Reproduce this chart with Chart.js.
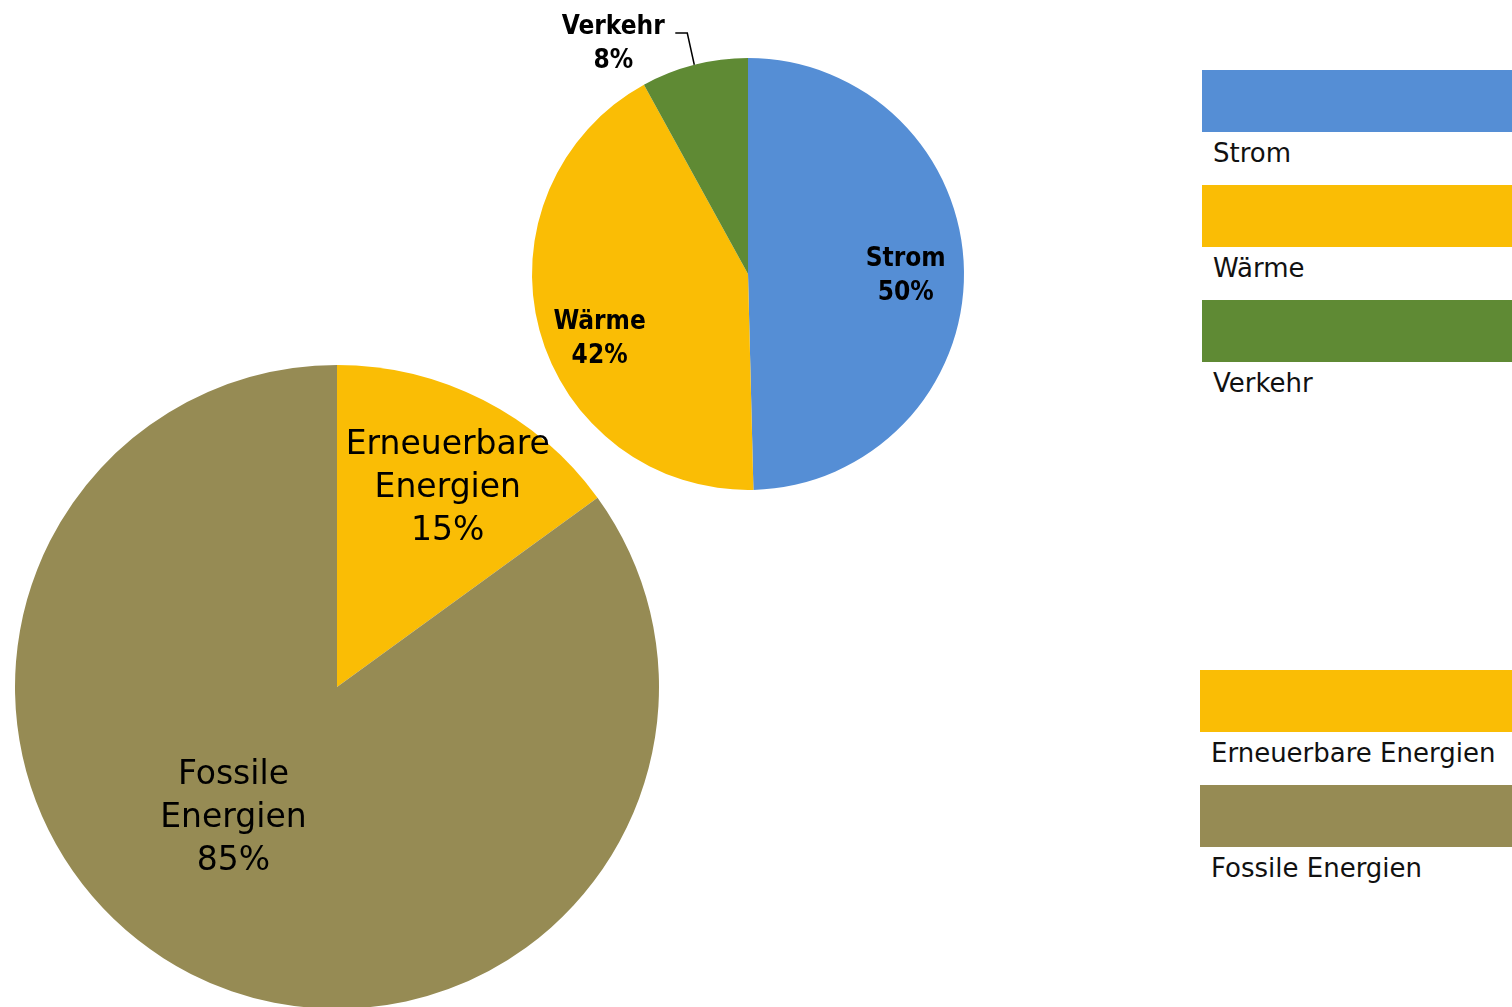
<!DOCTYPE html>
<html>
<head>
<meta charset="utf-8">
<script src="https://cdn.jsdelivr.net/npm/chart.js@4/dist/chart.umd.min.js"></script>
<style>
  html, body { margin: 0; padding: 0; background: #fff; overflow: hidden; width: 1512px; height: 1007px; }
  canvas { position: absolute; }
  #sectorChart { left: 430px; top: 0px; }
  #sourceChart { left: 0px; top: 0px; }
  .legend { position: absolute; left: 0; top: 0; font-family: "DejaVu Sans", sans-serif; color: #111; }
  .legend .swatch { position: absolute; height: 62px; width: 320px; }
  .legend .label { position: absolute; font-size: 26px; white-space: nowrap; }
</style>
</head>
<body>
<canvas id="sourceChart" width="700" height="1020"></canvas>
<canvas id="sectorChart" width="640" height="560"></canvas>
<div class="legend" id="legendTop"></div>
<div class="legend" id="legendBottom"></div>
<script>
const sectorLabels = ['Strom', 'Wärme', 'Verkehr'];
const sectorValues = [49.6, 42.4, 8.0];
const sectorPctText = ['50%', '42%', '8%'];
const sectorColors = ['#558ed5', '#fabd05', '#5f8a34'];

const sourceLabels = ['Erneuerbare Energien', 'Fossile Energien'];
const sourceValues = [15, 85];
const sourcePctText = ['15%', '85%'];
const sourceColors = ['#fabd05', '#968b54'];

const FONT = '"DejaVu Sans", sans-serif';
const FONT_COND = '"DejaVu Sans Condensed", "DejaVu Sans", sans-serif';

// draws text labels inside (or outside) slices
const sliceLabels = {
  id: 'sliceLabels',
  afterDatasetsDraw(chart, args, opts) {
    const ctx = chart.ctx;
    const arcs = chart.getDatasetMeta(0).data;
    ctx.save();
    ctx.fillStyle = '#000';
    ctx.textAlign = 'center';
    ctx.textBaseline = 'middle';
    ctx.font = opts.font;
    arcs.forEach((arc, i) => {
      const p = arc.getProps(['x', 'y', 'startAngle', 'endAngle', 'outerRadius'], true);
      const mid = (p.startAngle + p.endAngle) / 2;
      const lines = opts.lines[i];
      const tw = opts.tweaks[i] || {};
      if (tw.outside) {
        const ex = p.x + Math.cos(mid) * p.outerRadius;
        const ey = p.y + Math.sin(mid) * p.outerRadius;
        const kx = ex - 7, ky = p.y - p.outerRadius - 25;
        ctx.strokeStyle = '#000';
        ctx.lineWidth = 1.5;
        ctx.beginPath();
        ctx.moveTo(ex, ey);
        ctx.lineTo(kx, ky);
        ctx.lineTo(kx - 12, ky);
        ctx.stroke();
        const tx = kx - 12 - 62;
        lines.forEach((t, j) => ctx.fillText(t, tx, ky - 6 + j * opts.lineHeight));
        return;
      }
      const r = p.outerRadius * (tw.r || opts.radius);
      const cx = p.x + Math.cos(mid) * r + (tw.dx || 0);
      const cy = p.y + Math.sin(mid) * r + (tw.dy || 0);
      const y0 = cy - (lines.length - 1) * opts.lineHeight / 2;
      lines.forEach((t, j) => ctx.fillText(t, cx, y0 + j * opts.lineHeight));
    });
    ctx.restore();
  }
};

function pieConfig(labels, values, colors, padding, labelOpts) {
  return {
    type: 'pie',
    data: {
      labels,
      datasets: [{ data: values, backgroundColor: colors, borderWidth: 0 }]
    },
    options: {
      responsive: false,
      animation: false,
      events: [],
      layout: { padding },
      plugins: {
        legend: { display: false },
        tooltip: { enabled: false },
        sliceLabels: labelOpts
      }
    },
    plugins: [sliceLabels]
  };
}

new Chart(document.getElementById('sourceChart'), pieConfig(
  sourceLabels, sourceValues, sourceColors,
  { left: 15, right: 41, top: 365, bottom: 11 },
  {
    font: '33px ' + FONT,
    lineHeight: 43,
    radius: 0.71,
    lines: [['Erneuerbare', 'Energien', sourcePctText[0]], ['Fossile', 'Energien', sourcePctText[1]]],
    tweaks: [{ dx: 7, dy: 5 }, { r: 0.51, dx: -29, dy: -15 }]
  }
));

new Chart(document.getElementById('sectorChart'), pieConfig(
  sectorLabels, sectorValues, sectorColors,
  { left: 102, right: 106, top: 58, bottom: 70 },
  {
    font: 'bold 26px ' + FONT_COND,
    lineHeight: 34,
    radius: 0.73,
    lines: sectorLabels.map((l, i) => [l, sectorPctText[i]]),
    tweaks: [{ dy: 4 }, { r: 0.75, dx: 8, dy: 23 }, { outside: true }]
  }
));

function buildLegend(el, labels, colors, left, top, step) {
  labels.forEach((label, i) => {
    const sw = document.createElement('div');
    sw.className = 'swatch';
    sw.style.background = colors[i];
    sw.style.left = left + 'px';
    sw.style.top = (top + i * step) + 'px';
    el.appendChild(sw);
    const tx = document.createElement('div');
    tx.className = 'label';
    tx.textContent = label;
    tx.style.left = (left + 11) + 'px';
    tx.style.top = (top + i * step + 68) + 'px';
    el.appendChild(tx);
  });
}
buildLegend(document.getElementById('legendTop'), sectorLabels, sectorColors, 1202, 70, 115);
buildLegend(document.getElementById('legendBottom'), sourceLabels, sourceColors, 1200, 670, 115);
</script>
</body>
</html>
